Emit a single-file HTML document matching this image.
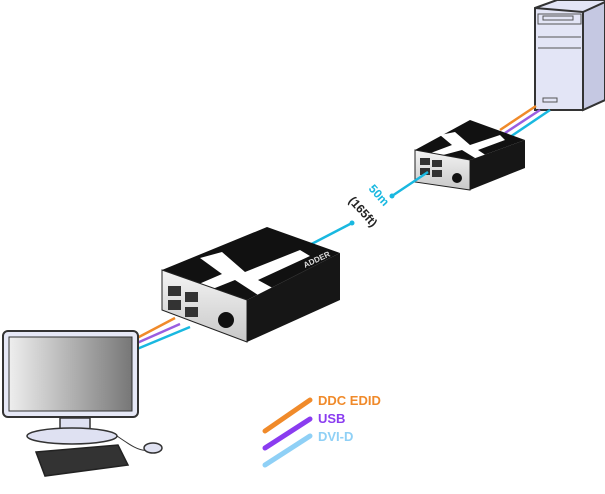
<!DOCTYPE html>
<html><head><style>body{margin:0;background:#fff}svg{display:block}</style></head><body>
<svg width="605" height="494" viewBox="0 0 605 494" xmlns="http://www.w3.org/2000/svg" font-family="Liberation Sans, sans-serif">
<defs>
<linearGradient id="scr" x1="0" x2="1"><stop offset="0" stop-color="#eee"/><stop offset="1" stop-color="#777"/></linearGradient>
<linearGradient id="fr" x1="0" x2="0" y1="0" y2="1"><stop offset="0" stop-color="#f4f4f4"/><stop offset="1" stop-color="#c8c8c8"/></linearGradient>
</defs>
<!-- tower -->
<polygon points="535,8 557,0 605,0 605,100 583,110 535,110" fill="#e3e5f6" stroke="#333" stroke-width="2"/>
<polygon points="583,12 605,2 605,100 583,110" fill="#c5c8e2" stroke="#333" stroke-width="2"/>
<line x1="535" y1="8" x2="583" y2="12" stroke="#333" stroke-width="2"/>
<g fill="none" stroke="#555" stroke-width="1"><rect x="538" y="14" width="43" height="10"/><rect x="543" y="16" width="30" height="4"/><line x1="538" y1="37" x2="581" y2="37"/><line x1="538" y1="48" x2="581" y2="48"/><rect x="543" y="98" width="14" height="4"/></g>
<!-- cables to tower -->
<g stroke-width="2.5"><line x1="500" y1="130" x2="536" y2="106" stroke="#f08a2a"/><line x1="505" y1="133" x2="540" y2="110" stroke="#9a5ee0"/><line x1="510" y1="137" x2="550" y2="110" stroke="#19b8e0"/></g>
<!-- small box -->
<polygon points="415,150 470,120 525,140 470,160" fill="#111"/>
<polygon points="440,135 455,132 470,145 500,135 505,140 478,150 490,158 475,158 462,150 432,158 428,154 452,145" fill="#fff"/>
<polygon points="415,150 470,160 470,190 415,182" fill="url(#fr)" stroke="#222"/>
<polygon points="470,160 525,140 525,168 470,190" fill="#161616"/>
<g fill="#333"><rect x="420" y="158" width="10" height="7"/><rect x="432" y="160" width="10" height="7"/><rect x="420" y="168" width="10" height="7"/><rect x="432" y="170" width="10" height="7"/></g>
<circle cx="457" cy="178" r="5" fill="#111"/>
<!-- link -->
<g stroke="#19b8e0" stroke-width="2.5"><line x1="300" y1="250" x2="352" y2="223"/><line x1="392" y1="196" x2="428" y2="172"/></g>
<circle cx="352" cy="223" r="2.5" fill="#19b8e0"/><circle cx="392" cy="196" r="2.5" fill="#19b8e0"/>
<text transform="translate(368,189) rotate(48)" font-size="12" font-weight="bold" fill="#19b8e0">50m</text>
<text transform="translate(348,201) rotate(48)" font-size="12" font-weight="bold" fill="#222">(165ft)</text>
<!-- cables to monitor -->
<g stroke-width="2.5"><line x1="137" y1="338" x2="175" y2="318" stroke="#f08a2a"/><line x1="137" y1="343" x2="180" y2="324" stroke="#9a5ee0"/><line x1="137" y1="349" x2="190" y2="327" stroke="#19b8e0"/></g>
<!-- big box -->
<polygon points="162,270 267,227 340,253 247,300" fill="#111"/>
<polygon points="200,258 222,252 245,272 300,250 310,256 258,280 280,292 258,295 235,280 185,300 178,293 222,274" fill="#fff"/>
<polygon points="162,270 247,300 247,342 162,310" fill="url(#fr)" stroke="#222"/>
<polygon points="247,300 340,253 340,300 247,342" fill="#161616"/>
<g fill="#333"><rect x="168" y="286" width="13" height="10"/><rect x="185" y="292" width="13" height="10"/><rect x="168" y="300" width="13" height="10"/><rect x="185" y="307" width="13" height="10"/></g>
<circle cx="226" cy="320" r="8" fill="#111"/>
<text transform="translate(305,268) rotate(-25)" font-size="8" fill="#ddd" font-weight="bold">ADDER</text>
<!-- monitor -->
<rect x="3" y="331" width="135" height="86" rx="5" fill="#e6e8f6" stroke="#333" stroke-width="2"/>
<rect x="9" y="337" width="123" height="74" fill="url(#scr)" stroke="#333"/>
<rect x="60" y="418" width="30" height="12" fill="#dfe1f2" stroke="#333" stroke-width="1.5"/>
<ellipse cx="72" cy="436" rx="45" ry="8" fill="#dfe1f2" stroke="#333" stroke-width="1.5"/>
<path d="M117,436 C130,445 140,452 148,450" fill="none" stroke="#333"/>
<ellipse cx="153" cy="448" rx="9" ry="5" fill="#e0e2f2" stroke="#333" stroke-width="1.5"/>
<polygon points="36,452 118,445 128,465 45,476" fill="#333" stroke="#222" stroke-width="1.5"/>
<!-- legend -->
<g stroke-width="5" stroke-linecap="round"><line x1="265" y1="431" x2="310" y2="400" stroke="#f08a2a"/><line x1="265" y1="448" x2="310" y2="419" stroke="#8a3cf0"/><line x1="265" y1="465" x2="310" y2="436" stroke="#8fd0f6"/></g>
<g font-size="13" font-weight="bold"><text x="318" y="405" fill="#f08a2a">DDC EDID</text><text x="318" y="423" fill="#8a3cf0">USB</text><text x="318" y="441" fill="#8fd0f6">DVI-D</text></g>
</svg>
</body></html>
